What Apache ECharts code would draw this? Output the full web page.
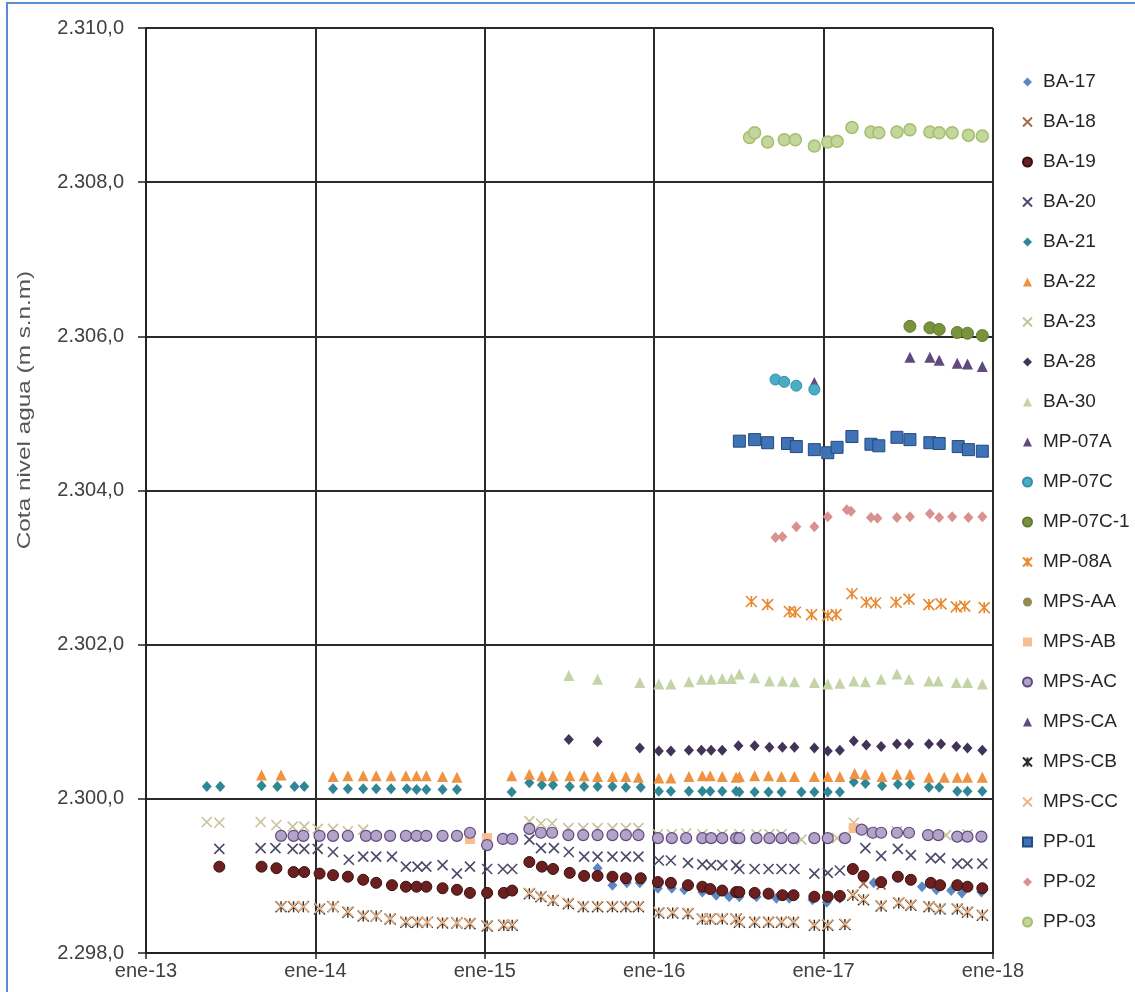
<!DOCTYPE html>
<html>
<head>
<meta charset="utf-8">
<title>Cota nivel agua</title>
<script src="https://cdn.jsdelivr.net/npm/echarts@6/dist/echarts.min.js"></script>
<style>
  html, body { margin: 0; padding: 0; background: #fff; }
  #chart { width: 1135px; height: 992px; }
</style>
</head>
<body>
<div id="chart"></div>
<script>
// Water level elevation per well, [date, m s.n.m]
const ba17 = [['2015-09-01',2299.10],['2015-10-03',2298.88],['2015-11-03',2298.91],['2015-12-01',2298.91],['2016-01-09',2298.84],['2016-02-08',2298.84],['2016-03-06',2298.82],['2016-04-14',2298.79],['2016-05-14',2298.75],['2016-06-11',2298.73],['2016-07-03',2298.73],['2016-08-09',2298.73],['2016-09-21',2298.71],['2016-10-19',2298.71],['2016-12-08',2298.69],['2017-01-08',2298.66],['2017-02-05',2298.71],['2017-04-19',2298.91],['2017-08-01',2298.86],['2017-09-01',2298.82],['2017-10-03',2298.81],['2017-10-26',2298.78],['2017-12-07',2298.79]];
const ba18 = [['2017-03-28',2298.90],['2017-05-05',2298.88]];
const ba19 = [['2013-06-08',2299.12],['2013-09-07',2299.12],['2013-10-09',2299.10],['2013-11-15',2299.05],['2013-12-08',2299.05],['2014-01-10',2299.03],['2014-02-08',2299.01],['2014-03-12',2298.99],['2014-04-14',2298.95],['2014-05-12',2298.91],['2014-06-15',2298.88],['2014-07-15',2298.86],['2014-08-07',2298.86],['2014-08-28',2298.86],['2014-10-02',2298.84],['2014-11-02',2298.82],['2014-11-30',2298.78],['2015-01-06',2298.78],['2015-02-11',2298.78],['2015-03-01',2298.81],['2015-04-07',2299.18],['2015-05-04',2299.12],['2015-05-28',2299.09],['2015-07-03',2299.04],['2015-08-03',2299.00],['2015-09-01',2299.00],['2015-10-03',2298.99],['2015-11-01',2298.97],['2015-12-03',2298.97],['2016-01-09',2298.92],['2016-02-06',2298.91],['2016-03-14',2298.88],['2016-04-14',2298.86],['2016-05-01',2298.83],['2016-05-27',2298.81],['2016-06-26',2298.79],['2016-07-03',2298.79],['2016-08-05',2298.78],['2016-09-04',2298.77],['2016-10-04',2298.75],['2016-10-28',2298.75],['2016-12-12',2298.73],['2017-01-10',2298.73],['2017-02-05',2298.74],['2017-03-05',2299.09],['2017-03-28',2299.00],['2017-05-05',2298.92],['2017-06-10',2298.99],['2017-07-08',2298.95],['2017-08-20',2298.91],['2017-09-09',2298.88],['2017-10-16',2298.88],['2017-11-07',2298.86],['2017-12-09',2298.84]];
const ba20 = [['2013-06-08',2299.35],['2013-09-05',2299.36],['2013-10-07',2299.36],['2013-11-13',2299.35],['2013-12-08',2299.35],['2014-01-06',2299.35],['2014-02-08',2299.31],['2014-03-14',2299.21],['2014-04-14',2299.25],['2014-05-12',2299.25],['2014-06-15',2299.25],['2014-07-15',2299.12],['2014-08-09',2299.12],['2014-08-28',2299.12],['2014-10-02',2299.14],['2014-11-02',2299.03],['2014-11-30',2299.12],['2015-01-06',2299.09],['2015-02-09',2299.09],['2015-03-01',2299.09],['2015-04-07',2299.47],['2015-05-02',2299.36],['2015-05-30',2299.36],['2015-07-01',2299.31],['2015-08-03',2299.25],['2015-09-01',2299.25],['2015-10-03',2299.25],['2015-11-01',2299.25],['2015-11-28',2299.25],['2016-01-11',2299.20],['2016-02-06',2299.20],['2016-03-14',2299.17],['2016-04-14',2299.15],['2016-05-03',2299.14],['2016-05-27',2299.14],['2016-06-26',2299.14],['2016-07-03',2299.09],['2016-08-05',2299.09],['2016-09-04',2299.09],['2016-10-02',2299.09],['2016-10-30',2299.09],['2016-12-12',2299.03],['2017-01-10',2299.04],['2017-02-05',2299.07],['2017-04-01',2299.36],['2017-05-05',2299.26],['2017-06-10',2299.35],['2017-07-08',2299.27],['2017-08-20',2299.23],['2017-09-09',2299.23],['2017-10-16',2299.16],['2017-11-07',2299.16],['2017-12-09',2299.16]];
const ba21 = [['2013-05-12',2300.16],['2013-06-10',2300.16],['2013-09-07',2300.17],['2013-10-11',2300.16],['2013-11-17',2300.16],['2013-12-08',2300.16],['2014-02-08',2300.13],['2014-03-12',2300.13],['2014-04-14',2300.13],['2014-05-12',2300.13],['2014-06-13',2300.13],['2014-07-17',2300.13],['2014-08-07',2300.12],['2014-08-28',2300.12],['2014-10-02',2300.12],['2014-11-02',2300.12],['2015-02-28',2300.09],['2015-04-07',2300.21],['2015-05-04',2300.18],['2015-05-28',2300.18],['2015-07-03',2300.16],['2015-08-03',2300.16],['2015-09-01',2300.16],['2015-10-03',2300.16],['2015-11-01',2300.15],['2015-12-03',2300.15],['2016-01-11',2300.10],['2016-02-06',2300.10],['2016-03-16',2300.10],['2016-04-14',2300.10],['2016-05-01',2300.10],['2016-05-27',2300.10],['2016-06-26',2300.10],['2016-07-03',2300.09],['2016-08-05',2300.09],['2016-09-04',2300.09],['2016-10-02',2300.09],['2016-11-14',2300.09],['2016-12-12',2300.09],['2017-01-10',2300.09],['2017-02-05',2300.09],['2017-03-07',2300.22],['2017-04-01',2300.20],['2017-05-07',2300.17],['2017-06-10',2300.19],['2017-07-06',2300.19],['2017-08-16',2300.15],['2017-09-07',2300.15],['2017-10-16',2300.10],['2017-11-07',2300.10],['2017-12-09',2300.10]];
const ba22 = [['2013-09-07',2300.31],['2013-10-19',2300.31],['2014-02-08',2300.29],['2014-03-12',2300.30],['2014-04-14',2300.30],['2014-05-12',2300.30],['2014-06-13',2300.30],['2014-07-15',2300.30],['2014-08-07',2300.30],['2014-08-28',2300.30],['2014-10-02',2300.29],['2014-11-02',2300.28],['2015-02-28',2300.30],['2015-04-07',2300.32],['2015-05-04',2300.30],['2015-05-28',2300.30],['2015-07-03',2300.30],['2015-08-03',2300.30],['2015-09-01',2300.29],['2015-10-03',2300.29],['2015-11-01',2300.29],['2015-11-28',2300.28],['2016-01-11',2300.27],['2016-02-06',2300.27],['2016-03-16',2300.29],['2016-04-14',2300.30],['2016-05-01',2300.30],['2016-05-27',2300.29],['2016-06-26',2300.28],['2016-07-03',2300.29],['2016-08-05',2300.30],['2016-09-04',2300.30],['2016-10-02',2300.29],['2016-10-30',2300.29],['2016-12-12',2300.29],['2017-01-10',2300.29],['2017-02-05',2300.29],['2017-03-09',2300.33],['2017-04-01',2300.32],['2017-05-07',2300.29],['2017-06-08',2300.32],['2017-07-06',2300.32],['2017-08-16',2300.28],['2017-09-18',2300.28],['2017-10-16',2300.28],['2017-11-07',2300.28],['2017-12-09',2300.28]];
const ba23 = [['2013-05-12',2299.70],['2013-06-08',2299.69],['2013-09-05',2299.70],['2013-10-09',2299.66],['2013-11-13',2299.64],['2013-12-08',2299.64],['2014-01-06',2299.61],['2014-02-08',2299.61],['2014-03-12',2299.58],['2014-04-14',2299.60],['2015-04-07',2299.71],['2015-05-02',2299.68],['2015-05-26',2299.68],['2015-06-30',2299.62],['2015-08-01',2299.62],['2015-09-01',2299.62],['2015-10-03',2299.62],['2015-11-01',2299.62],['2015-11-28',2299.62],['2016-01-09',2299.54],['2016-02-08',2299.54],['2016-03-10',2299.55],['2016-04-14',2299.54],['2016-05-27',2299.54],['2016-07-03',2299.54],['2016-08-09',2299.54],['2016-09-06',2299.54],['2016-10-02',2299.54],['2016-11-14',2299.47],['2017-01-30',2299.49],['2017-03-07',2299.69],['2017-04-13',2299.58],['2017-06-08',2299.58],['2017-09-22',2299.53],['2017-11-07',2299.54]];
const ba28 = [['2015-07-01',2300.77],['2015-09-01',2300.74],['2015-12-01',2300.66],['2016-01-11',2300.62],['2016-02-06',2300.62],['2016-03-16',2300.63],['2016-04-12',2300.63],['2016-05-03',2300.63],['2016-05-27',2300.63],['2016-07-01',2300.69],['2016-08-05',2300.69],['2016-09-06',2300.67],['2016-10-04',2300.67],['2016-10-30',2300.67],['2016-12-12',2300.66],['2017-01-10',2300.62],['2017-02-05',2300.63],['2017-03-07',2300.75],['2017-04-03',2300.70],['2017-05-05',2300.68],['2017-06-08',2300.71],['2017-07-04',2300.71],['2017-08-16',2300.71],['2017-09-11',2300.71],['2017-10-14',2300.68],['2017-11-07',2300.66],['2017-12-09',2300.63]];
const ba30 = [['2015-07-01',2301.60],['2015-09-01',2301.55],['2015-12-01',2301.51],['2016-01-11',2301.49],['2016-02-06',2301.49],['2016-03-16',2301.52],['2016-04-12',2301.55],['2016-05-03',2301.55],['2016-05-27',2301.56],['2016-06-16',2301.56],['2016-07-03',2301.62],['2016-08-05',2301.57],['2016-09-06',2301.53],['2016-10-04',2301.53],['2016-10-30',2301.52],['2016-12-12',2301.51],['2017-01-10',2301.49],['2017-02-05',2301.50],['2017-03-07',2301.53],['2017-04-01',2301.52],['2017-05-05',2301.55],['2017-06-08',2301.62],['2017-07-04',2301.55],['2017-08-16',2301.53],['2017-09-05',2301.53],['2017-10-14',2301.51],['2017-11-07',2301.51],['2017-12-09',2301.49]];
const mp07a = [['2016-12-12',2305.40],['2017-07-06',2305.73],['2017-08-18',2305.73],['2017-09-07',2305.69],['2017-10-16',2305.65],['2017-11-07',2305.64],['2017-12-09',2305.61]];
const mp07c = [['2016-09-19',2305.44],['2016-10-08',2305.41],['2016-11-03',2305.36],['2016-12-12',2305.31]];
const mp07c1 = [['2017-07-06',2306.13],['2017-08-18',2306.11],['2017-09-07',2306.09],['2017-10-16',2306.05],['2017-11-07',2306.04],['2017-12-09',2306.01]];
const mp08a = [['2016-07-29',2302.56],['2016-09-02',2302.52],['2016-10-19',2302.43],['2016-11-01',2302.42],['2016-12-06',2302.39],['2017-01-10',2302.38],['2017-01-28',2302.39],['2017-03-03',2302.66],['2017-04-03',2302.55],['2017-04-23',2302.54],['2017-06-06',2302.55],['2017-07-04',2302.59],['2017-08-16',2302.52],['2017-09-11',2302.53],['2017-10-14',2302.49],['2017-11-01',2302.50],['2017-12-13',2302.48]];
const mpsAA = [];
const mpsAB = [['2014-11-30',2299.48],['2015-01-06',2299.49],['2017-03-07',2299.62]];
const mpsAC = [['2013-10-19',2299.52],['2013-11-15',2299.52],['2013-12-06',2299.52],['2014-01-10',2299.52],['2014-02-08',2299.52],['2014-03-12',2299.52],['2014-04-20',2299.52],['2014-05-12',2299.52],['2014-06-11',2299.52],['2014-07-15',2299.52],['2014-08-07',2299.52],['2014-08-28',2299.52],['2014-10-02',2299.52],['2014-11-02',2299.52],['2014-11-30',2299.56],['2015-01-06',2299.40],['2015-02-09',2299.48],['2015-03-01',2299.48],['2015-04-07',2299.61],['2015-05-02',2299.56],['2015-05-26',2299.56],['2015-06-30',2299.53],['2015-08-01',2299.53],['2015-09-01',2299.53],['2015-10-03',2299.53],['2015-11-01',2299.53],['2015-11-28',2299.53],['2016-01-09',2299.49],['2016-02-08',2299.49],['2016-03-10',2299.49],['2016-04-14',2299.49],['2016-05-03',2299.49],['2016-05-27',2299.49],['2016-06-26',2299.49],['2016-07-03',2299.49],['2016-08-09',2299.49],['2016-09-06',2299.49],['2016-10-02',2299.49],['2016-10-28',2299.49],['2016-12-12',2299.49],['2017-01-10',2299.49],['2017-02-16',2299.49],['2017-03-24',2299.60],['2017-04-17',2299.56],['2017-05-05',2299.56],['2017-06-08',2299.56],['2017-07-04',2299.56],['2017-08-14',2299.53],['2017-09-05',2299.53],['2017-10-16',2299.51],['2017-11-07',2299.51],['2017-12-07',2299.51]];
const mpsCA = [];
const mpsCB = [['2013-10-19',2298.60],['2013-11-15',2298.60],['2013-12-06',2298.60],['2014-01-10',2298.57],['2014-02-08',2298.60],['2014-03-12',2298.53],['2014-04-14',2298.48],['2014-05-12',2298.48],['2014-06-11',2298.44],['2014-07-15',2298.40],['2014-08-09',2298.40],['2014-08-30',2298.40],['2014-10-02',2298.39],['2014-11-02',2298.39],['2014-11-30',2298.38],['2015-01-06',2298.35],['2015-02-11',2298.36],['2015-03-01',2298.36],['2015-04-07',2298.77],['2015-05-02',2298.73],['2015-05-28',2298.68],['2015-06-30',2298.64],['2015-08-01',2298.60],['2015-09-01',2298.60],['2015-10-03',2298.60],['2015-11-01',2298.60],['2015-11-28',2298.60],['2016-01-11',2298.52],['2016-02-10',2298.52],['2016-03-14',2298.51],['2016-04-14',2298.44],['2016-05-01',2298.44],['2016-05-27',2298.44],['2016-06-26',2298.44],['2016-07-03',2298.40],['2016-08-05',2298.40],['2016-09-04',2298.40],['2016-10-02',2298.40],['2016-10-28',2298.40],['2016-12-12',2298.36],['2017-01-10',2298.36],['2017-02-16',2298.37],['2017-03-05',2298.75],['2017-03-28',2298.69],['2017-05-05',2298.61],['2017-06-12',2298.65],['2017-07-08',2298.62],['2017-08-16',2298.60],['2017-09-09',2298.57],['2017-10-16',2298.57],['2017-11-07',2298.53],['2017-12-09',2298.49]];
const mpsCC = [['2013-10-19',2298.61],['2013-11-15',2298.61],['2013-12-06',2298.60],['2014-01-10',2298.58],['2014-02-08',2298.60],['2014-03-12',2298.54],['2014-04-14',2298.49],['2014-05-12',2298.48],['2014-06-11',2298.45],['2014-07-15',2298.41],['2014-08-09',2298.41],['2014-08-30',2298.40],['2014-10-02',2298.40],['2014-11-02',2298.39],['2014-11-30',2298.39],['2015-01-06',2298.36],['2015-02-11',2298.37],['2015-03-01',2298.37],['2015-04-07',2298.78],['2015-05-02',2298.74],['2015-05-28',2298.69],['2015-06-30',2298.65],['2015-08-01',2298.61],['2015-09-01',2298.61],['2015-10-03',2298.61],['2015-11-01',2298.61],['2015-11-28',2298.61],['2016-01-11',2298.53],['2016-02-10',2298.53],['2016-03-14',2298.52],['2016-04-14',2298.45],['2016-05-01',2298.45],['2016-05-27',2298.45],['2016-06-26',2298.45],['2016-07-03',2298.41],['2016-08-05',2298.41],['2016-09-04',2298.41],['2016-10-02',2298.41],['2016-10-28',2298.41],['2016-12-12',2298.37],['2017-01-10',2298.37],['2017-02-16',2298.38],['2017-03-05',2298.76],['2017-03-28',2298.70],['2017-05-05',2298.62],['2017-06-12',2298.66],['2017-07-08',2298.63],['2017-08-16',2298.61],['2017-09-09',2298.58],['2017-10-16',2298.58],['2017-11-07',2298.54],['2017-12-09',2298.50]];
const pp01 = [['2016-07-03',2304.64],['2016-08-05',2304.66],['2016-09-02',2304.62],['2016-10-15',2304.61],['2016-11-03',2304.57],['2016-12-12',2304.53],['2017-01-10',2304.49],['2017-01-30',2304.56],['2017-03-03',2304.70],['2017-04-13',2304.60],['2017-04-30',2304.58],['2017-06-08',2304.69],['2017-07-06',2304.66],['2017-08-18',2304.62],['2017-09-07',2304.61],['2017-10-18',2304.57],['2017-11-09',2304.53],['2017-12-09',2304.51]];
const pp02 = [['2016-09-19',2303.39],['2016-10-04',2303.40],['2016-11-03',2303.53],['2016-12-12',2303.53],['2017-01-10',2303.66],['2017-02-20',2303.75],['2017-03-01',2303.73],['2017-04-13',2303.65],['2017-04-27',2303.64],['2017-06-08',2303.65],['2017-07-06',2303.66],['2017-08-18',2303.70],['2017-09-07',2303.65],['2017-10-05',2303.66],['2017-11-09',2303.65],['2017-12-09',2303.66]];
const pp03 = [['2016-07-25',2308.58],['2016-08-05',2308.64],['2016-09-02',2308.52],['2016-10-08',2308.55],['2016-11-01',2308.55],['2016-12-12',2308.47],['2017-01-10',2308.52],['2017-01-30',2308.53],['2017-03-03',2308.71],['2017-04-13',2308.65],['2017-04-30',2308.64],['2017-06-08',2308.65],['2017-07-06',2308.68],['2017-08-18',2308.65],['2017-09-07',2308.64],['2017-10-05',2308.64],['2017-11-09',2308.61],['2017-12-09',2308.60]];

// Axis extents and tick labels
const yearTicks = [2013, 2014, 2015, 2016, 2017, 2018];
const yearLabels = ['ene-13', 'ene-14', 'ene-15', 'ene-16', 'ene-17', 'ene-18'];
const levelMin = 2298, levelMax = 2310, levelStep = 2;
const yTitle = 'Cota nivel agua (m s.n.m)';

// Marker shapes drawn as stroked paths
const X_PATH = 'path://M0,0L10,10M10,0L0,10';
const STAR_PATH = 'path://M0,0L10,10M10,0L0,10M5,0L5,10';

// name, data, symbol, size, fill, border, borderWidth
const wells = [
  ['BA-17', ba17, 'diamond', [10, 11], '#5B87C2', null, 0],
  ['BA-18', ba18, X_PATH, 9, '#A46A45', '#A46A45', 1.6],
  ['BA-19', ba19, 'circle', 11, '#6B1F1F', '#3A0F0F', 1],
  ['BA-20', ba20, X_PATH, 10, '#4A4A6A', '#4A4A6A', 1.6],
  ['BA-21', ba21, 'diamond', [10, 11], '#2F8795', null, 0],
  ['BA-22', ba22, 'triangle', 11, '#F0923F', null, 0],
  ['BA-23', ba23, X_PATH, 10, '#C8C29A', '#C8C29A', 1.6],
  ['BA-28', ba28, 'diamond', [10, 11], '#413456', null, 0],
  ['BA-30', ba30, 'triangle', 11, '#C5D3A8', null, 0],
  ['MP-07A', mp07a, 'triangle', 11, '#5F4A7E', null, 0],
  ['MP-07C', mp07c, 'circle', 11, '#4BACC6', '#3590A8', 1],
  ['MP-07C-1', mp07c1, 'circle', 12, '#77933C', '#62792F', 1],
  ['MP-08A', mp08a, STAR_PATH, 11, '#E8892F', '#E8892F', 1.6],
  ['MPS-AA', mpsAA, 'circle', 11, '#948A54', null, 0],
  ['MPS-AB', mpsAB, 'rect', 10, '#F9BE8F', null, 0],
  ['MPS-AC', mpsAC, 'circle', 11, '#B4A3C9', '#5F4A7E', 1.2],
  ['MPS-CA', mpsCA, 'triangle', 11, '#5F4A7E', null, 0],
  ['MPS-CB', mpsCB, STAR_PATH, 11, '#2A2A2A', '#2A2A2A', 1.4],
  ['MPS-CC', mpsCC, X_PATH, 10, '#F0B585', '#F0B585', 1.6],
  ['PP-01', pp01, 'rect', 12, '#3F73B8', '#244A7A', 1],
  ['PP-02', pp02, 'diamond', [10, 11], '#D9918F', null, 0],
  ['PP-03', pp03, 'circle', 12, '#C3D69B', '#A4BE6A', 1.5]
];

// Date string -> fractional year on the x scale
function toYear(s) {
  const p = s.split('-').map(Number);
  const start = Date.UTC(p[0], 0, 1), end = Date.UTC(p[0] + 1, 0, 1);
  return p[0] + (Date.UTC(p[0], p[1] - 1, p[2]) - start) / (end - start);
}

// 2310 -> "2.310,0"
function fmtLevel(v) {
  const s = v.toFixed(1).split('.');
  return s[0].replace(/\B(?=(\d{3})+(?!\d))/g, '.') + ',' + s[1];
}

const FONT = '"Liberation Sans", Arial, sans-serif';
const chart = echarts.init(document.getElementById('chart'), null, { renderer: 'canvas' });

chart.setOption({
  backgroundColor: '#ffffff',
  animation: false,
  grid: { left: 146, right: 142, top: 28, bottom: 39, containLabel: false },
  xAxis: {
    type: 'value',
    min: yearTicks[0],
    max: yearTicks[yearTicks.length - 1],
    interval: 1,
    axisLine: { show: true, onZero: false, lineStyle: { color: '#222', width: 2 } },
    axisTick: { show: true, length: 6, lineStyle: { color: '#222', width: 1.5 } },
    splitLine: { show: true, lineStyle: { color: '#2a2a2a', width: 2 } },
    axisLabel: {
      margin: 8,
      color: '#404040',
      fontSize: 20,
      fontFamily: FONT,
      formatter: v => yearLabels[yearTicks.indexOf(Math.round(v))] || ''
    }
  },
  yAxis: {
    type: 'value',
    min: levelMin,
    max: levelMax,
    interval: levelStep,
    axisLine: { show: true, lineStyle: { color: '#222', width: 2 } },
    axisTick: { show: true, length: 8, lineStyle: { color: '#222', width: 1.5 } },
    splitLine: { show: true, lineStyle: { color: '#2a2a2a', width: 2 } },
    axisLabel: {
      margin: 22,
      color: '#404040',
      fontSize: 20,
      fontFamily: FONT,
      formatter: fmtLevel
    }
  },
  legend: {
    orient: 'vertical',
    left: 1017,
    top: 67,
    itemWidth: 9,
    itemHeight: 9,
    itemGap: 20,
    textStyle: {
      fontSize: 19,
      lineHeight: 20,
      color: '#262626',
      fontFamily: FONT,
      padding: [0, 0, 0, 6]
    },
    data: wells.map(w => w[0])
  },
  graphic: [
    {
      type: 'rect',
      silent: true,
      shape: { x: 7, y: 3, width: 1200, height: 1100 },
      style: { fill: 'none', stroke: '#5B8BD0', lineWidth: 2 }
    },
    {
      type: 'text',
      x: 25,
      y: 410,
      rotation: Math.PI / 2,
      scaleX: 1.28,
      style: {
        text: yTitle,
        fill: '#555555',
        font: '19px "Liberation Sans", sans-serif',
        textAlign: 'center',
        textVerticalAlign: 'middle'
      }
    }
  ],
  series: wells.map(w => ({
    name: w[0],
    type: 'scatter',
    symbol: w[2],
    symbolSize: w[3],
    itemStyle: {
      color: w[4],
      borderColor: w[5] || w[4],
      borderWidth: w[6],
      opacity: 1
    },
    emphasis: { disabled: true },
    data: w[1].map(d => [toYear(d[0]), d[1]])
  }))
});
</script>
</body>
</html>
